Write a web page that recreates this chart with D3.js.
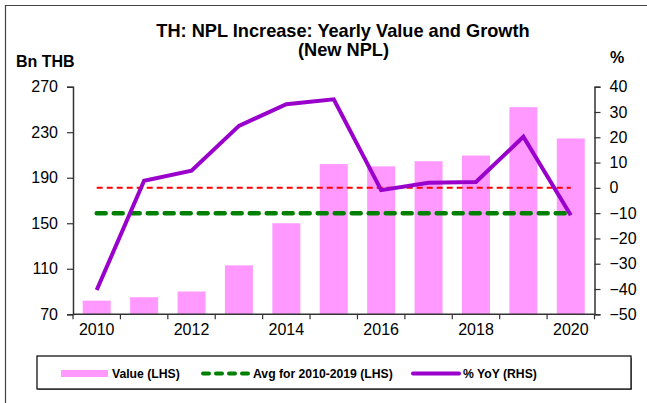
<!DOCTYPE html>
<html><head><meta charset="utf-8">
<script src="https://cdn.jsdelivr.net/npm/d3@7"></script>
<style>body{margin:0;background:#fff}svg{display:block}text{font-family:"Liberation Sans",Arial,sans-serif}</style>
</head><body><svg id="c" width="647" height="403"></svg>
<script>
const years = [2010,2011,2012,2013,2014,2015,2016,2017,2018,2019,2020];
const values = [82,85,90,113,150,202,200,204.5,209.5,252,224.5];
const yoy = [-40.4,2.8,6.8,24.5,33.1,35.0,-0.9,2.0,2.3,20.2,-10.8];
const avg2010_2019 = 158.8;
const zeroLine = 0;
const leftTicks = [70,110,150,190,230,270];
const rightTicks = [-50,-40,-30,-20,-10,0,10,20,30,40];
const xLabels = [2010,2012,2014,2016,2018,2020];

const svg = d3.select("#c");
const L = 73, R = 594.5, T = 86.7, B = 314.3;
const x = d3.scaleBand().domain(years).range([L,R]).padding(0);
const yL = d3.scaleLinear().domain([70,270]).range([B,T]);
const yR = d3.scaleLinear().domain([-50,40]).range([B,T]);
const cx = d => x(d) + x.bandwidth()/2;

// outer frame
svg.append("path").attr("d","M5.5,403 V5.5 H647").attr("fill","none").attr("stroke","#444").attr("stroke-width",1.2);

// title
svg.append("text").attr("x",343).attr("y",36.5).attr("text-anchor","middle").attr("font-weight","bold").attr("font-size",18.2)
  .text("TH: NPL Increase: Yearly Value and Growth");
svg.append("text").attr("x",343.5).attr("y",56).attr("text-anchor","middle").attr("font-weight","bold").attr("font-size",18.2)
  .text("(New NPL)");
svg.append("text").attr("x",16).attr("y",67.3).attr("font-weight","bold").attr("font-size",16).text("Bn THB");
svg.append("text").attr("x",610).attr("y",63).attr("font-weight","bold").attr("font-size",16).text("%");

// bars
const bw = x.bandwidth()*0.59;
svg.append("g").selectAll("rect").data(years).join("rect")
  .attr("x", (d)=>cx(d)-bw/2).attr("width", bw)
  .attr("y", (d,i)=>yL(values[i])).attr("height",(d,i)=>B-yL(values[i]))
  .attr("fill","#FF99FF");

// reference lines
const lineL = d3.line().x(d=>d[0]).y(d=>d[1]);
svg.append("path").attr("d", lineL([[cx(years[0]), yR(zeroLine)],[cx(years[years.length-1]), yR(zeroLine)]]))
  .attr("stroke","#FF0000").attr("stroke-width",2).attr("stroke-dasharray","6,4").attr("fill","none");
svg.append("path").attr("d", lineL([[cx(years[0]), yL(avg2010_2019)],[cx(years[years.length-1]), yL(avg2010_2019)]]))
  .attr("stroke","#008000").attr("stroke-width",4.5).attr("stroke-dasharray","9,8").attr("stroke-linecap","round").attr("fill","none");

// yoy line
svg.append("path").datum(years).attr("d", d3.line().x(d=>cx(d)).y((d,i)=>yR(yoy[i])))
  .attr("stroke","#9900CC").attr("stroke-width",4).attr("fill","none").attr("stroke-linejoin","miter");

// axes
const axL = svg.append("g").attr("transform",`translate(${L},0)`).call(d3.axisLeft(yL).tickValues(leftTicks).tickSize(6).tickPadding(9).tickFormat(d3.format("d")));
const axR = svg.append("g").attr("transform",`translate(${R},0)`).call(d3.axisRight(yR).tickValues(rightTicks).tickSize(6).tickPadding(9).tickFormat(d3.format("d")));
const axB = svg.append("g").attr("transform",`translate(0,${B})`).call(d3.axisBottom(x).tickValues(xLabels).tickSize(0).tickPadding(9));
// bottom tick marks at band boundaries
svg.append("g").selectAll("line").data(years.concat(["end"])).join("line")
  .attr("x1",(d,i)=>L+i*x.step()).attr("x2",(d,i)=>L+i*x.step())
  .attr("y1",B).attr("y2",B+5).attr("stroke","#333").attr("stroke-width",1.2);
[axL,axR,axB].forEach(a=>{
  a.selectAll("path.domain").attr("stroke","#333").attr("stroke-width",1.5);
  a.selectAll(".tick line").attr("stroke","#333").attr("stroke-width",1.2);
  a.selectAll("text").attr("font-family","Liberation Sans, Arial, sans-serif").attr("font-size",16).attr("fill","#000");
});
axB.select("path.domain").attr("d",`M${L},0H${R}`);

// legend
const lg = svg.append("g");
lg.append("rect").attr("x",38).attr("y",358).attr("width",594).attr("height",32).attr("fill","#888");
lg.append("rect").attr("x",37).attr("y",356).attr("width",594).attr("height",33).attr("fill","#fff").attr("stroke","#000").attr("stroke-width",1.2);
const ly = 373.5;
lg.append("line").attr("x1",61).attr("x2",108).attr("y1",ly).attr("y2",ly).attr("stroke","#FF99FF").attr("stroke-width",7);
lg.append("text").attr("x",112).attr("y",ly+4.5).attr("font-weight","bold").attr("font-size",12.2).text("Value (LHS)");
lg.append("line").attr("x1",203).attr("x2",248).attr("y1",ly).attr("y2",ly).attr("stroke","#008000").attr("stroke-width",4).attr("stroke-dasharray","6,7").attr("stroke-linecap","round");
lg.append("text").attr("x",253).attr("y",ly+4.5).attr("font-weight","bold").attr("font-size",12.2).text("Avg for 2010-2019 (LHS)");
lg.append("line").attr("x1",413).attr("x2",459).attr("y1",ly).attr("y2",ly).attr("stroke","#9900CC").attr("stroke-width",4).attr("stroke-linecap","round");
lg.append("text").attr("x",463).attr("y",ly+4.5).attr("font-weight","bold").attr("font-size",12.2).text("% YoY (RHS)");
</script></body></html>
